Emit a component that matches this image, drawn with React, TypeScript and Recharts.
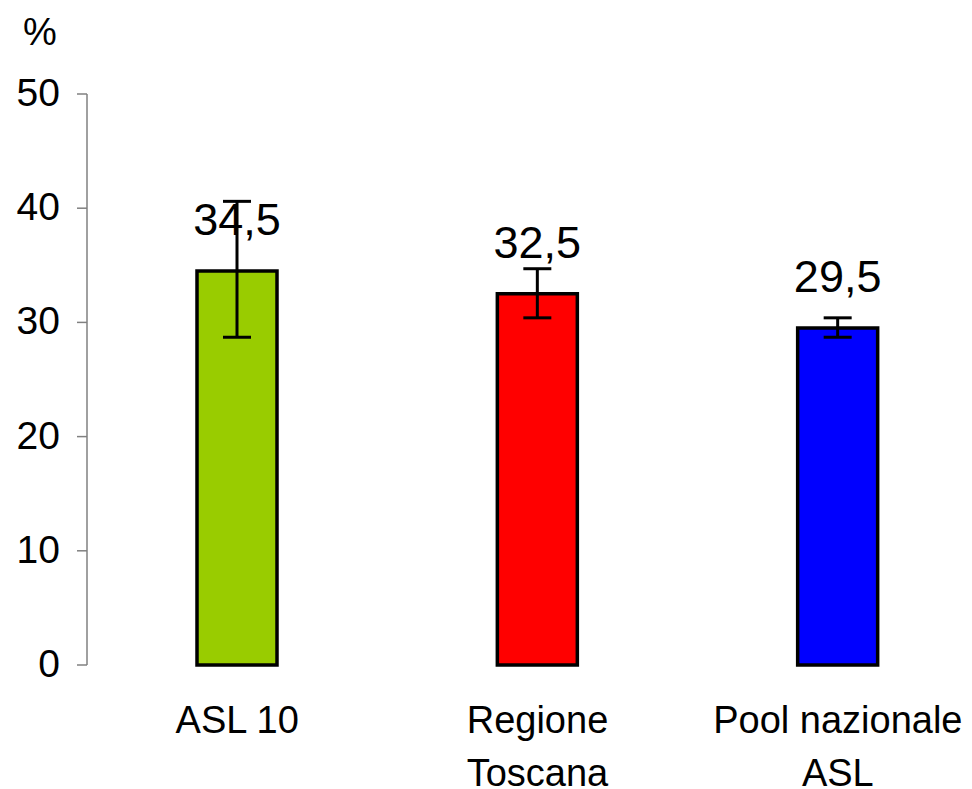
import React from 'react';
import { BarChart, Bar, XAxis, YAxis, ErrorBar, LabelList, Cell } from 'recharts';

const categories = ['ASL 10', 'Regione Toscana', 'Pool nazionale ASL'];
const categoryLines = [['ASL 10'], ['Regione', 'Toscana'], ['Pool nazionale', 'ASL']];
const values = [34.5, 32.5, 29.5];
const ciLow = [28.7, 30.4, 28.7];
const ciHigh = [40.6, 34.7, 30.4];
const colors = ['#99CC00', '#FF0000', '#0000FF'];
const yTicks = [0, 10, 20, 30, 40, 50];

const data = categories.map((name, i) => ({
  name,
  lines: categoryLines[i],
  value: values[i],
  err: [values[i] - ciLow[i], ciHigh[i] - values[i]],
}));

const FONT = '"Liberation Sans", Arial, sans-serif';

const XTick = (props: any) => {
  const { x, y, index } = props;
  const lines = categoryLines[index] || [];
  return (
    <g>
      {lines.map((l: string, i: number) => (
        <text
          key={i}
          x={x}
          y={y + 68 + i * 53}
          textAnchor="middle"
          fontSize={38}
          fontFamily={FONT}
          fill="#000"
        >
          {l}
        </text>
      ))}
    </g>
  );
};

const YTick = (props: any) => {
  const { x, y, payload } = props;
  return (
    <text x={x} y={y + 12} textAnchor="end" fontSize={39} fontFamily={FONT} fill="#000">
      {payload.value}
    </text>
  );
};

const PercentLabel = (props: any) => {
  const vb = props.viewBox || { x: 0, y: 94 };
  return (
    <text x={vb.x + 40} y={vb.y - 49} textAnchor="middle" fontSize={38} fontFamily={FONT} fill="#000">
      %
    </text>
  );
};

export default function App() {
  return (
    <div style={{ position: 'absolute', left: 0, top: 0, width: 972, height: 789, overflow: 'hidden', background: '#fff' }}>
      <BarChart
        width={988}
        height={789}
        data={data}
        margin={{ top: 94, right: 0, bottom: 0, left: 0 }}
        barSize={80}
      >
        <XAxis
          dataKey="name"
          axisLine={false}
          tickLine={false}
          tickSize={0}
          tickMargin={0}
          height={124}
          interval={0}
          tick={<XTick />}
        />
        <YAxis
          domain={[0, 50]}
          ticks={yTicks}
          width={87}
          axisLine={{ stroke: '#808080', strokeWidth: 1.5 }}
          tickLine={{ stroke: '#808080', strokeWidth: 1.5 }}
          tickSize={10}
          tickMargin={17}
          tick={<YTick />}
          label={<PercentLabel />}
        />
        <Bar dataKey="value" stroke="#000" strokeWidth={3.5} isAnimationActive={false}>
          {data.map((d, i) => (
            <Cell key={i} fill={colors[i]} />
          ))}
          <ErrorBar dataKey="err" width={14} stroke="#000" strokeWidth={3} isAnimationActive={false} />
          <LabelList
            dataKey="value"
            position="top"
            offset={36}
            fontSize={45}
            fontFamily={FONT}
            fill="#000"
            formatter={(v: any) => String(v).replace('.', ',')}
          />
        </Bar>
      </BarChart>
    </div>
  );
}
